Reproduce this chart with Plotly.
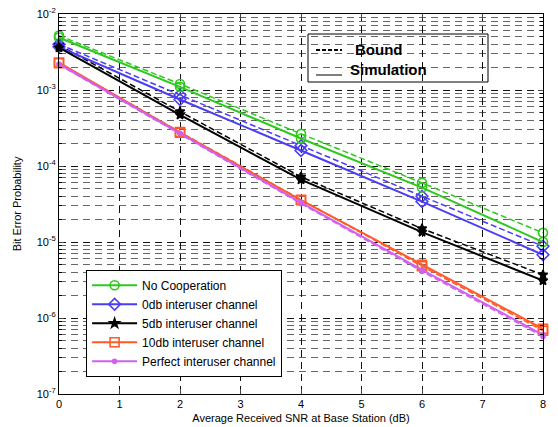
import plotly.graph_objects as go

snr = [0, 2, 4, 6, 8]

names = ["No Cooperation", "0db interuser channel", "5db interuser channel",
         "10db interuser channel", "Perfect interuser channel"]

# Simulation (solid) curves
sim_nocoop = [4.9e-3, 1.1e-3, 2.3e-4, 5.2e-5, 1.0e-5]
sim_0db = [3.7e-3, 7.5e-4, 1.6e-4, 3.4e-5, 6.8e-6]
sim_5db = [3.6e-3, 4.7e-4, 6.6e-5, 1.35e-5, 3.1e-6]
sim_10db = [2.3e-3, 2.75e-4, 3.55e-5, 5.0e-6, 7.2e-7]
sim_perfect = [2.2e-3, 2.7e-4, 3.3e-5, 4.3e-6, 6.0e-7]

# Bound (dashed) curves
bound_nocoop = [5.2e-3, 1.2e-3, 2.65e-4, 6.0e-5, 1.32e-5]
bound_0db = [4.0e-3, 8.6e-4, 1.85e-4, 4.0e-5, 8.8e-6]
bound_5db = [3.9e-3, 5.2e-4, 7.2e-5, 1.5e-5, 3.7e-6]
bound_10db = [2.25e-3, 2.8e-4, 3.6e-5, 4.8e-6, 6.8e-7]
bound_perfect = [2.15e-3, 2.65e-4, 3.2e-5, 4.1e-6, 5.7e-7]

sims = [sim_nocoop, sim_0db, sim_5db, sim_10db, sim_perfect]
bounds = [bound_nocoop, bound_0db, bound_5db, bound_10db, bound_perfect]

colors = ["#2ec81e", "#4b3cf5", "#000000", "#ff5a28", "#d060f0"]
symbols = ["circle-open", "diamond-open", "star", "square-open", "circle"]
msizes = [9, 9, 7, 9, 4]

ytickvals = [1e-7, 1e-6, 1e-5, 1e-4, 1e-3, 1e-2]
yticktext = ["10<sup>-7</sup>", "10<sup>-6</sup>", "10<sup>-5</sup>",
             "10<sup>-4</sup>", "10<sup>-3</sup>", "10<sup>-2</sup>"]
yminorvals = [m * 10.0 ** e for e in range(-7, -2) for m in range(2, 10)]

fig = go.Figure()
for i in range(5):
    fig.add_trace(go.Scatter(
        x=snr, y=bounds[i], mode="lines+markers", showlegend=False, cliponaxis=False,
        line=dict(color=colors[i], width=1.5, dash="6px,3px"),
        marker=dict(symbol=symbols[i], size=msizes[i], color=colors[i],
                    line=dict(color=colors[i], width=1.6)),
    ))
for i in range(5):
    fig.add_trace(go.Scatter(
        x=snr, y=sims[i], mode="lines+markers", name=names[i], cliponaxis=False,
        line=dict(color=colors[i], width=2),
        marker=dict(symbol=symbols[i], size=msizes[i], color=colors[i],
                    line=dict(color=colors[i], width=1.6)),
    ))

fig.update_xaxes(
    range=[0, 8], tickvals=list(range(9)), ticks="inside", ticklen=5,
    showline=True, linecolor="black", linewidth=1, mirror="ticks",
    zeroline=False, automargin=False,
    showgrid=True, gridcolor="#111111", griddash="7px,5px", gridwidth=1,
    title=dict(text="Average Received SNR at Base Station (dB)", standoff=5,
               font=dict(size=11, color="black")),
    tickfont=dict(size=11, color="black"),
)
fig.update_yaxes(
    type="log", range=[-7, -2], tickmode="array", tickvals=ytickvals, ticktext=yticktext,
    ticks="inside", ticklen=5,
    showline=True, linecolor="black", linewidth=1, mirror="ticks",
    zeroline=False, automargin=False,
    showgrid=True, gridcolor="#111111", griddash="7px,5px", gridwidth=1,
    minor=dict(tickmode="array", tickvals=yminorvals, showgrid=True,
               gridcolor="#666666", griddash="7px,5px", gridwidth=1,
               ticks="inside", ticklen=3, tickcolor="black"),
    title=dict(text="Bit Error Probability", standoff=12,
               font=dict(size=11, color="black")),
    tickfont=dict(size=11, color="black"),
)

fig.update_layout(
    width=558, height=427,
    margin=dict(l=59, r=15, t=14, b=33),
    paper_bgcolor="white", plot_bgcolor="white",
    font=dict(family="Liberation Sans, Arial, sans-serif", size=11, color="black"),
    legend=dict(x=0.056, y=0.327, xanchor="left", yanchor="top",
                bgcolor="white", bordercolor="black", borderwidth=1,
                font=dict(size=12), itemwidth=45, tracegroupgap=0),
    shapes=[
        dict(type="rect", xref="paper", yref="paper",
             x0=(308 - 59) / 484, x1=(488 - 59) / 484,
             y0=(394 - 82) / 380, y1=(394 - 34) / 380,
             line=dict(color="black", width=1)),
        dict(type="line", xref="paper", yref="paper",
             x0=(316 - 59) / 484, x1=(342 - 59) / 484,
             y0=(394 - 50) / 380, y1=(394 - 50) / 380,
             line=dict(color="black", width=2, dash="4px,2px")),
        dict(type="line", xref="paper", yref="paper",
             x0=(316 - 59) / 484, x1=(342 - 59) / 484,
             y0=(394 - 75) / 380, y1=(394 - 75) / 380,
             line=dict(color="black", width=1)),
    ],
    annotations=[
        dict(text="<b>Bound</b>", xref="paper", yref="paper",
             x=(353 - 59) / 484, y=(394 - 50) / 380, xanchor="left", yanchor="middle",
             showarrow=False, font=dict(size=15, color="black")),
        dict(text="<b>Simulation</b>", xref="paper", yref="paper",
             x=(348 - 59) / 484, y=(394 - 69) / 380, xanchor="left", yanchor="middle",
             showarrow=False, font=dict(size=15, color="black")),
    ],
)

fig.write_html("out.html", config={"displayModeBar": False},
               post_script="document.body.style.margin='0px';")
